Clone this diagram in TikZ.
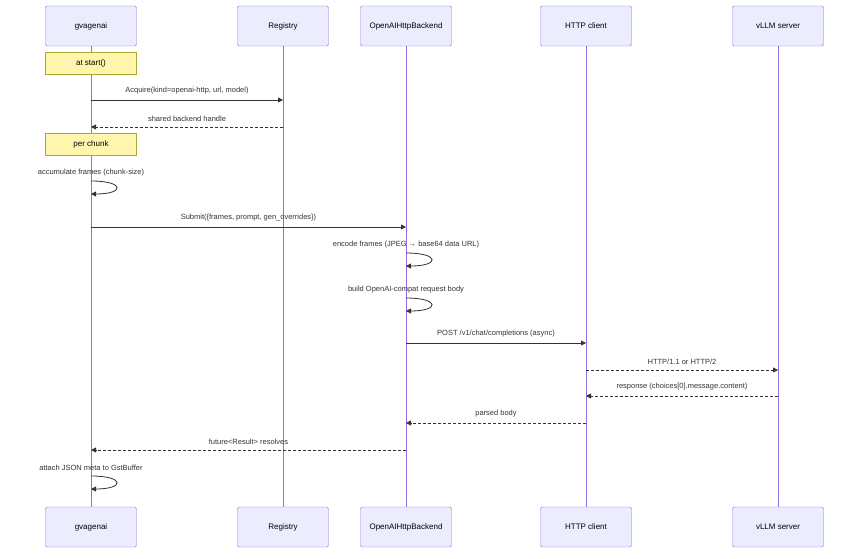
\documentclass[tikz,border=0pt]{standalone}
\usepackage{fontspec}
\setmainfont{Liberation Sans}
\usetikzlibrary{arrows.meta}
\definecolor{actfill}{HTML}{ECECFF}
\definecolor{actline}{HTML}{9370DB}
\definecolor{notefill}{HTML}{FFF5AD}
\definecolor{noteline}{HTML}{AAAA33}
\definecolor{msg}{HTML}{333333}
\tikzset{
  actor/.style={draw=actline,fill=actfill,rounded corners=1.5pt,minimum width=91pt,minimum height=40pt,font=\fontsize{8}{10}\selectfont,text=black},
  notebox/.style={draw=noteline,fill=notefill,minimum width=91pt,minimum height=22pt,font=\fontsize{8}{10}\selectfont},
  lifeline/.style={actline,line width=1pt},
  call/.style={msg,line width=0.8pt,-{Triangle[length=5pt,width=5pt]}},
  reply/.style={call,densely dashed},
  lbl/.style={font=\fontsize{7.5}{9}\selectfont,text=msg}
}
\begin{document}
\begin{tikzpicture}[x=1pt,y=-1pt]
\useasboundingbox (0,0) rectangle (864,559);

% actors, top and bottom
\foreach \nm/\xx/\txt in {g/91/gvagenai,r/283/Registry,o/406/OpenAIHttpBackend,h/586/HTTP client,v/778/vLLM server}{
  \draw[lifeline] (\xx,46) -- (\xx,507);
  \node[actor] (\nm top) at (\xx,26) {\txt};
  \node[actor] (\nm bot) at (\xx,527) {\txt};
}

% notes
\node[notebox] (start) at (91,63) {at start()};
\node[notebox] (chunk) at (91,144) {per chunk};

% messages
\coordinate (g1) at (91,100); \coordinate (r1) at (283,100);
\draw[call] (g1) -- (r1) node[lbl,midway,above=2pt] {Acquire(kind=openai-http, url, model)};
\coordinate (g2) at (91,127); \coordinate (r2) at (283,127);
\draw[reply] (r2) -- (g2) node[lbl,midway,above=2pt] {shared backend handle};

\coordinate (g3) at (91,181); \coordinate (g3e) at (91,194);
\node[lbl] at (91,173) {accumulate frames (chunk-size)};
\draw[call] (g3) .. controls (125,181) and (125,194) .. (g3e);

\coordinate (g4) at (91,227); \coordinate (o4) at (406,227);
\draw[call] (g4) -- (o4) node[lbl,midway,above=2pt] {Submit(\{frames, prompt, gen\_overrides\})};

\coordinate (o5) at (406,253); \coordinate (o5e) at (406,266);
\node[lbl] at (406,245) {encode frames (JPEG → base64 data URL)};
\draw[call] (o5) .. controls (440,253) and (440,266) .. (o5e);

\coordinate (o6) at (406,298); \coordinate (o6e) at (406,311);
\node[lbl] at (406,290) {build OpenAI-compat request body};
\draw[call] (o6) .. controls (440,298) and (440,311) .. (o6e);

\coordinate (o7) at (406,343); \coordinate (h7) at (586,343);
\draw[call] (o7) -- (h7) node[lbl,midway,above=2pt] {POST /v1/chat/completions (async)};
\coordinate (h8) at (586,370); \coordinate (v8) at (778,370);
\draw[reply] (h8) -- (v8) node[lbl,midway,above=2pt] {HTTP/1.1 or HTTP/2};
\coordinate (h9) at (586,396); \coordinate (v9) at (778,396);
\draw[reply] (v9) -- (h9) node[lbl,midway,above=2pt] {response (choices[0].message.content)};
\coordinate (o10) at (406,423); \coordinate (h10) at (586,423);
\draw[reply] (h10) -- (o10) node[lbl,midway,above=2pt] {parsed body};
\coordinate (g11) at (91,450); \coordinate (o11) at (406,450);
\draw[reply] (o11) -- (g11) node[lbl,midway,above=2pt] {future<Result> resolves};

\coordinate (g12) at (91,476); \coordinate (g12e) at (91,489);
\node[lbl] at (91,468) {attach JSON meta to GstBuffer};
\draw[call] (g12) .. controls (125,476) and (125,489) .. (g12e);
\end{tikzpicture}
\end{document}
